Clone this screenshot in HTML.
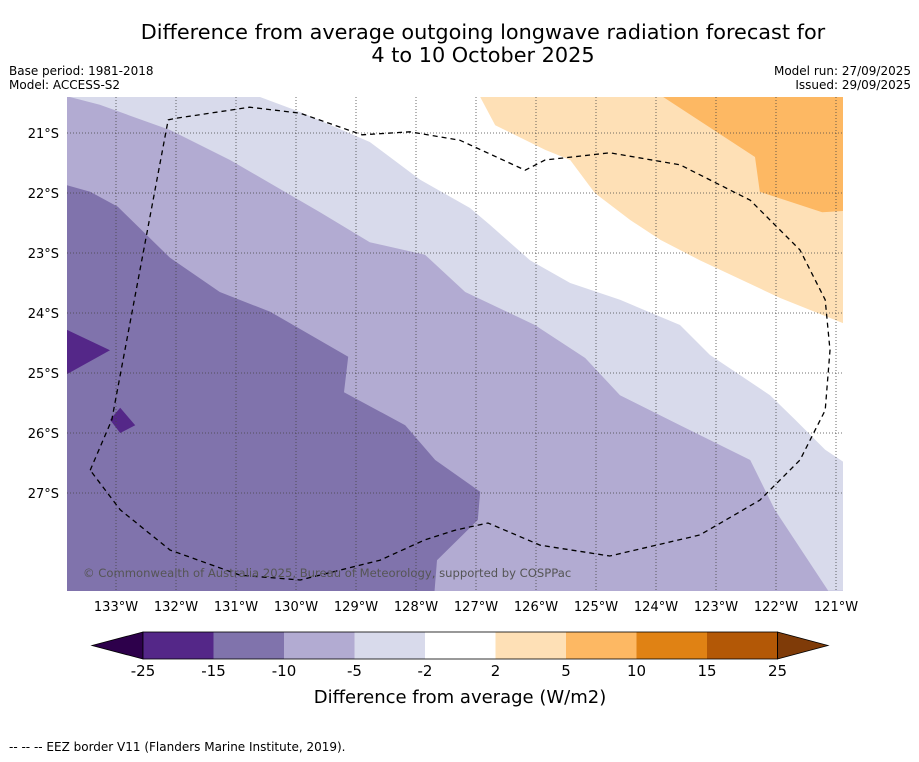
<!DOCTYPE html>
<html><head><meta charset="utf-8"><style>
body{margin:0;background:#fff;width:919px;height:758px;overflow:hidden;font-family:"DejaVu Sans","Liberation Sans",sans-serif}
</style></head><body>
<svg id="chart" width="919" height="758" xmlns="http://www.w3.org/2000/svg" font-family="DejaVu Sans, Liberation Sans, sans-serif">
<text x="483" y="39" font-size="20.8" text-anchor="middle">Difference from average outgoing longwave radiation forecast for</text>
<text x="483" y="62" font-size="20.8" text-anchor="middle">4 to 10 October 2025</text>
<text x="9" y="75" font-size="12">Base period: 1981-2018</text>
<text x="9" y="89" font-size="12">Model: ACCESS-S2</text>
<text x="911" y="75" font-size="12" text-anchor="end">Model run: 27/09/2025</text>
<text x="911" y="89" font-size="12" text-anchor="end">Issued: 29/09/2025</text>
<defs><clipPath id="mc"><rect x="67" y="97" width="776" height="494"/></clipPath></defs>
<g id="map" clip-path="url(#mc)">
<rect x="67" y="97" width="776" height="494" fill="#b2abd2"/>
</g>
<g id="grid"></g>
<g id="eez"></g>
<text x="83" y="577" font-size="11.6" fill="#555">© Commonwealth of Australia 2025, Bureau of Meteorology, supported by COSPPac</text>
<g id="ticks"></g>
<g id="cbar"></g>
<text x="460" y="703" font-size="18" text-anchor="middle">Difference from average (W/m2)</text>
<text x="9" y="751" font-size="12">--  --  -- EEZ border V11 (Flanders Marine Institute, 2019).</text>
</svg>
<script>
const lonTicks=[-133,-132,-131,-130,-129,-128,-127,-126,-125,-124,-123,-122,-121];
const latTicks=[-21,-22,-23,-24,-25,-26,-27];
const cbLevels=[-25,-15,-10,-5,-2,2,5,10,15,25];
const cbColors=["#542788","#8073ac","#b2abd2","#d8daeb","#ffffff","#fee0b6","#fdb863","#e08214","#b35806"];
const cbLow="#2d004b", cbHigh="#7f3b08";
const lightRegion=[[-133.77,-20.40],[-133.27,-20.53],[-132.10,-20.95],[-131.10,-21.45],[-129.60,-22.32],[-128.77,-22.82],[-127.85,-23.03],[-127.18,-23.65],[-126.02,-24.20],[-125.18,-24.75],[-124.60,-25.37],[-123.60,-25.87],[-122.43,-26.45],[-122.02,-27.28],[-121.13,-28.63],[-120.5,-28.63],[-120.5,-20.0],[-133.77,-20.0]];
const whiteRegion=[[-130.60,-20.0],[-130.60,-20.40],[-129.93,-20.65],[-128.77,-21.15],[-127.93,-21.78],[-127.10,-22.25],[-126.77,-22.53],[-126.10,-23.12],[-125.43,-23.50],[-124.60,-23.78],[-123.60,-24.20],[-123.10,-24.70],[-122.10,-25.37],[-121.68,-25.78],[-121.18,-26.28],[-120.88,-26.48],[-120.5,-26.5],[-120.5,-20.0]];
const orangeLight=[[-126.93,-20.0],[-126.93,-20.40],[-126.68,-20.87],[-125.85,-21.28],[-125.43,-21.45],[-125.02,-22.00],[-124.43,-22.45],[-123.93,-22.78],[-123.27,-23.12],[-121.93,-23.75],[-120.88,-24.17],[-120.5,-24.2],[-120.5,-20.0]];
const orangeDark=[[-123.88,-20.40],[-122.35,-21.40],[-122.27,-21.98],[-121.23,-22.32],[-120.5,-22.28],[-120.5,-20.0],[-124.4,-20.0]];
const darkRegion=[[-134,-21.87],[-133.82,-21.87],[-133.43,-21.98],[-132.97,-22.23],[-132.10,-23.08],[-131.27,-23.65],[-130.43,-23.98],[-129.13,-24.73],[-129.20,-25.32],[-128.18,-25.87],[-127.68,-26.45],[-126.93,-26.98],[-126.97,-27.45],[-127.65,-28.12],[-127.72,-29],[-134,-29]];
const blob1=[[-134,-24.2],[-133.82,-24.28],[-133.10,-24.62],[-133.82,-25.02],[-134,-25.1]];
const blob2=[[-133.10,-25.78],[-132.93,-25.58],[-132.68,-25.87],[-132.93,-26.0]];
const eezLine=[[-133.43,-26.62],[-133.07,-25.78],[-132.13,-20.78],[-131.97,-20.75],[-130.77,-20.57],[-129.93,-20.67],[-128.90,-21.03],[-128.10,-20.98],[-127.27,-21.12],[-126.18,-21.62],[-125.85,-21.45],[-124.77,-21.33],[-123.60,-21.53],[-122.43,-22.12],[-121.60,-22.95],[-121.18,-23.78],[-121.10,-24.62],[-121.18,-25.62],[-121.60,-26.45],[-122.27,-27.12],[-123.27,-27.70],[-124.77,-28.05],[-125.93,-27.87],[-126.80,-27.50],[-127.35,-27.62],[-127.85,-27.78],[-128.60,-28.12],[-129.93,-28.45],[-130.93,-28.37],[-132.10,-27.95],[-132.93,-27.28],[-133.43,-26.62]];
const NS="http://www.w3.org/2000/svg";
const X=lon=>116+(lon+133)*60;
const Y=lat=>133+(-21-lat)*60;
function mk(tag,parent,attrs){const e=document.createElementNS(NS,tag);for(const k in attrs)e.setAttribute(k,attrs[k]);parent.appendChild(e);return e;}
const pts=a=>a.map(p=>X(p[0]).toFixed(1)+","+Y(p[1]).toFixed(1)).join(" ");
const map=document.getElementById("map");
[["light-lavender-region",lightRegion,"#d8daeb"],["near-average-region",whiteRegion,"#ffffff"],["light-orange-region",orangeLight,"#fee0b6"],["orange-region",orangeDark,"#fdb863"],["dark-purple-region",darkRegion,"#8073ac"],["deep-purple-patch-1",blob1,"#542788"],["deep-purple-patch-2",blob2,"#542788"]].forEach(r=>{
  const p=mk("polygon",map,{points:pts(r[1]),fill:r[2]});
  
  
});
const grid=document.getElementById("grid"), ticks=document.getElementById("ticks");
lonTicks.forEach(l=>{
  const g=mk("line",grid,{x1:X(l),x2:X(l),y1:97,y2:591,stroke:"#444","stroke-width":0.8,"stroke-dasharray":"1,2"});
  
  
  const t=mk("text",ticks,{x:X(l),y:611,"font-size":13,"text-anchor":"middle"});
  t.textContent=Math.abs(l)+"°W";
  
  
});
latTicks.forEach(l=>{
  const g=mk("line",grid,{x1:67,x2:843,y1:Y(l),y2:Y(l),stroke:"#444","stroke-width":0.8,"stroke-dasharray":"1,2"});
  
  
  const t=mk("text",ticks,{x:59,y:Y(l)+5,"font-size":13,"text-anchor":"end"});
  t.textContent=Math.abs(l)+"°S";
  
  
});
const eez=mk("polyline",document.getElementById("eez"),{points:pts(eezLine),fill:"none",stroke:"#000","stroke-width":1.3,"stroke-dasharray":"5,4"});


const cb=document.getElementById("cbar");
const cx0=143,cw=70.5,cy=632,ch=27;
const lo=mk("polygon",cb,{points:`92,${cy+ch/2} ${cx0},${cy} ${cx0},${cy+ch}`,fill:cbLow,stroke:"#000","stroke-width":0.8});


cbColors.forEach((c,i)=>{
  const r=mk("rect",cb,{x:cx0+i*cw,y:cy,width:cw,height:ch,fill:c});
  
  
});
const xe=cx0+cbColors.length*cw;
const hi=mk("polygon",cb,{points:`${xe},${cy} 828,${cy+ch/2} ${xe},${cy+ch}`,fill:cbHigh,stroke:"#000","stroke-width":0.8});


mk("rect",cb,{x:cx0,y:cy,width:xe-cx0,height:ch,fill:"none",stroke:"#000","stroke-width":0.8});
cbLevels.forEach((v,i)=>{
  const t=mk("text",cb,{x:cx0+i*cw,y:676,"font-size":15,"text-anchor":"middle"});
  t.textContent=v;
  
  
});
</script>
</body></html>
